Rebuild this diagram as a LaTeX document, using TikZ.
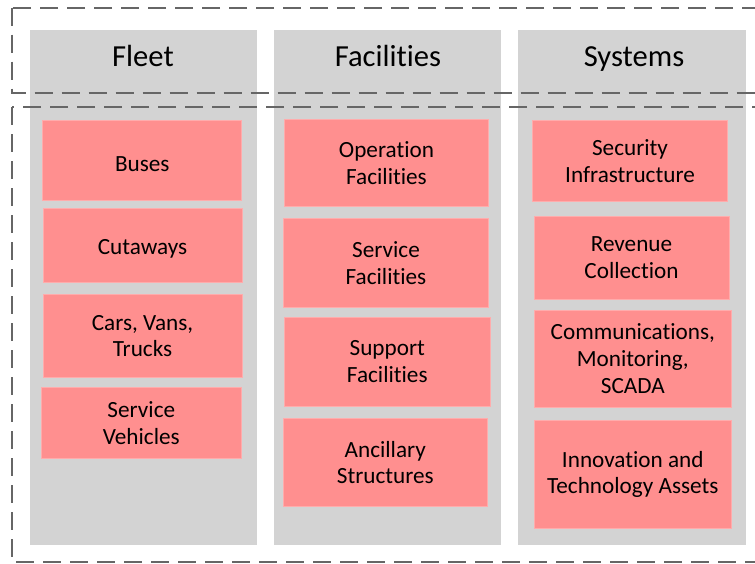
\documentclass[tikz,border=0pt]{standalone}
\usepackage{fontspec}
\setmainfont{Carlito}[Ligatures=NoCommon]

\definecolor{colgray}{RGB}{211,211,211}
\definecolor{assetpink}{RGB}{255,143,143}
\definecolor{assetedge}{RGB}{255,172,172}
\definecolor{dashgray}{RGB}{102,102,102}

\begin{document}
\begin{tikzpicture}[x=0.5pt,y=-0.5pt,
  colhead/.style={anchor=base, font=\fontsize{15.3}{18}\selectfont},
  asset/.style={fill=assetpink, draw=assetedge, line width=0.4pt, inner sep=0pt,
    align=center, font=\fontsize{11.6}{13.4}\selectfont,
    execute at begin node={\rule{0pt}{10.8pt}}},
  group/.style={draw=dashgray, line width=1pt, dash pattern=on 9pt off 4.5pt}]

\useasboundingbox (0,0) rectangle (755,563);
\clip (0,0) rectangle (755,563);

% the three columns
\fill[colgray] (30,30) rectangle (257,545);
\fill[colgray] (274,30) rectangle (501,545);
\fill[colgray] (518,30) rectangle (746,545);

\node[colhead] (fleet) at (143,66.5) {Fleet};
\node[colhead] (facilities) at (388,66.5) {Facilities};
\node[colhead] (systems) at (634,66.5) {Systems};

% fleet
\node[asset, minimum width=99.5pt, minimum height=39.7pt] (buses) at (142.3,160.3) {Buses};
\node[asset, minimum width=99.5pt, minimum height=37.2pt] (cutaways) at (142.5,245.5) {Cutaways};
\node[asset, minimum width=99.5pt, minimum height=41.7pt] (cars) at (142.5,336) {Cars, Vans,\\Trucks};
\node[asset, minimum width=99.6pt, minimum height=35.7pt] (vehicles) at (141.3,423) {Service\\Vehicles};

% facilities
\node[asset, minimum width=102.2pt, minimum height=43.7pt] (operation) at (386.5,163) {Operation\\Facilities};
\node[asset, minimum width=102.7pt, minimum height=44.3pt] (service) at (386,262.7) {Service\\Facilities};
\node[asset, minimum width=102.6pt, minimum height=44.2pt] (support) at (387.3,361.8) {Support\\Facilities};
\node[asset, minimum width=102pt, minimum height=44.2pt] (ancillary) at (385.3,462.5) {Ancillary\\Structures};

% systems
\node[asset, minimum width=97.7pt, minimum height=40.2pt] (security) at (630,160.8) {Security\\Infrastructure};
\node[asset, minimum width=97.5pt, minimum height=41.5pt] (revenue) at (631.5,257.5) {Revenue\\Collection};
\node[asset, minimum width=98.8pt, minimum height=48.7pt] (comms) at (632.8,358.7) {Communications,\\Monitoring,\\SCADA};
\node[asset, minimum width=98.8pt, minimum height=53.8pt] (innovation) at (632.8,474.5) {Innovation and\\Technology Assets};

% dashed groups
\draw[group] (12,7.5) rectangle (800,93);
\draw[group] (12,107) rectangle (800,562);
\end{tikzpicture}
\end{document}
